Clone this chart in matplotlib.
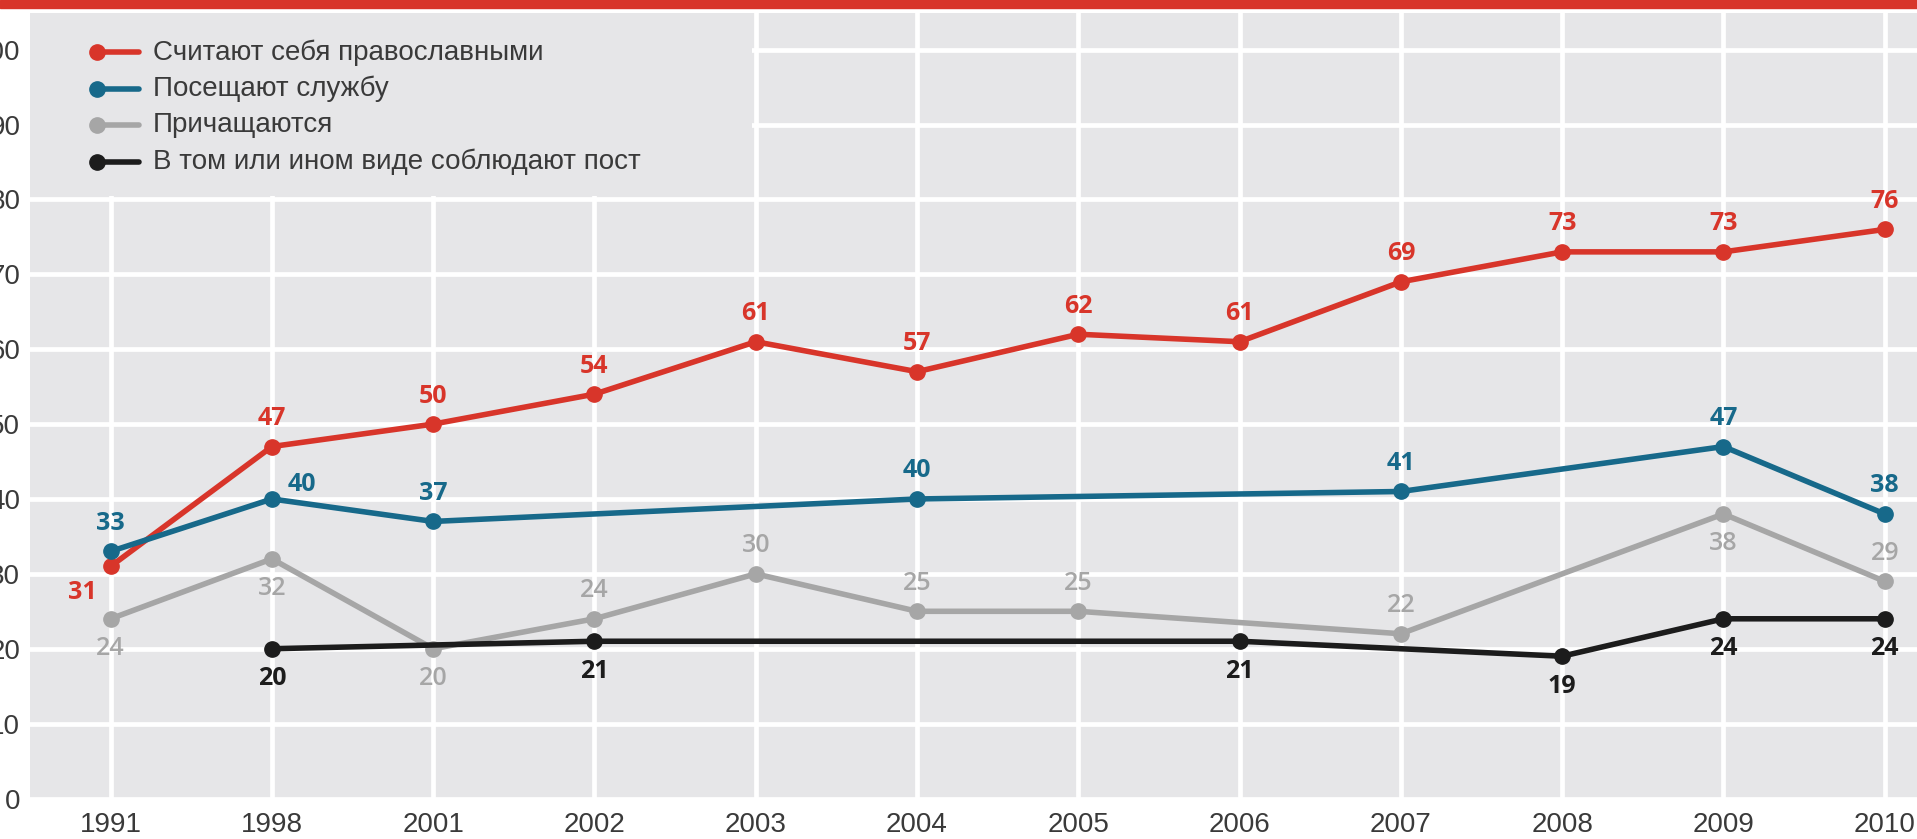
import matplotlib
matplotlib.use("Agg")
import matplotlib.pyplot as plt
from matplotlib import font_manager
from matplotlib.patches import Rectangle

installed = {f.name for f in font_manager.fontManager.ttflist}
narrow = 'Liberation Sans Narrow' if 'Liberation Sans Narrow' in installed else 'Liberation Sans'
plt.rcParams['font.family'] = [narrow, 'DejaVu Sans']

# data
years = ['1991', '1998', '2001', '2002', '2003', '2004', '2005', '2006', '2007', '2008', '2009', '2010']
orthodox = [31, 47, 50, 54, 61, 57, 62, 61, 69, 73, 73, 76]
attend = [33, 40, 37, None, None, 40, None, None, 41, None, 47, 38]
communion = [24, 32, 20, 24, 30, 25, 25, None, 22, None, 38, 29]
fasting = [None, 20, None, 21, None, None, None, 21, None, 19, 24, 24]

names = ['Считают себя православными', 'Посещают службу', 'Причащаются',
         'В том или ином виде соблюдают пост']
colors = ['#d8352a', '#17698a', '#a6a6a6', '#1c1c1c']
label_pos = [
    ['bl', 'a', 'a', 'a', 'a', 'a', 'a', 'a', 'a', 'a', 'a', 'a'],
    ['a', 'ar', 'a', '', '', 'a', '', '', 'a', '', 'a', 'a'],
    ['b', 'b', 'b', 'a', 'a', 'a', 'a', '', 'a', '', 'b', 'a'],
    ['', 'b', '', 'b', '', '', '', 'b', '', 'b', 'b', 'b'],
]
offsets = {'a': (0, 28), 'b': (0, -30), 'bl': (-28, -26), 'ar': (30, 14)}

bg = '#e6e6e8'
W, H = 1917, 839
fig = plt.figure(figsize=(W / 100, H / 100), dpi=100)
fig.patch.set_facecolor('white')
fig.patches.append(Rectangle((0, 1 - 8 / H), 1, 8 / H, transform=fig.transFigure,
                             color='#d8352a', zorder=0))

ax = fig.add_axes([30 / W, 39 / H, 1887 / W, 787 / H])
ax.set_facecolor(bg)
for s in ax.spines.values():
    s.set_visible(False)

ax.set_xlim(-0.5, 11.2)
ax.set_ylim(-0.2, 104.9)
ax.set_xticks(range(len(years)))
ax.set_xticklabels(years)
ax.set_yticks(range(0, 101, 10))
ax.tick_params(length=0, labelsize=20, colors='#3a3a3a')
ax.tick_params(axis='x', pad=9)
ax.tick_params(axis='y', pad=7)
ax.grid(True, color='white', lw=3.4)
ax.set_axisbelow(True)

series = [orthodox, attend, communion, fasting]
order = [2, 3, 1, 0]
for k in order:
    vals = series[k]
    xs = [i for i, v in enumerate(vals) if v is not None]
    ys = [vals[i] for i in xs]
    ax.plot(xs, ys, color=colors[k], lw=4, marker='o', ms=11, zorder=3 + k * 0.1,
            solid_capstyle='round')
    for i in xs:
        pos = label_pos[k][i]
        if not pos:
            continue
        weight = 'semibold' if k == 2 else 'bold'
        ax.annotate(str(vals[i]), (i, vals[i]), xytext=offsets[pos], textcoords='offset pixels',
                    ha='center', va='center', fontsize=18, fontweight=weight,
                    color=colors[k], family=['Open Sans', 'DejaVu Sans'], zorder=5)

# legend block
ax.add_patch(Rectangle((0, 0.767), 0.3826, 0.25, transform=ax.transAxes,
                       facecolor=bg, edgecolor='none', zorder=1))
rows = [0.95, 0.904, 0.858, 0.811]
for k in range(4):
    ax.plot([0.0355, 0.058], [rows[k], rows[k]], transform=ax.transAxes,
            color=colors[k], lw=4, zorder=4, solid_capstyle='round')
    ax.plot([0.0355], [rows[k]], transform=ax.transAxes, marker='o', ms=11,
            color=colors[k], zorder=4)
    ax.text(0.0652, rows[k], names[k], transform=ax.transAxes, va='center', ha='left',
            fontsize=20, color='#3a3a3a', zorder=4)

fig.savefig('out.png', dpi=100, facecolor='white')
